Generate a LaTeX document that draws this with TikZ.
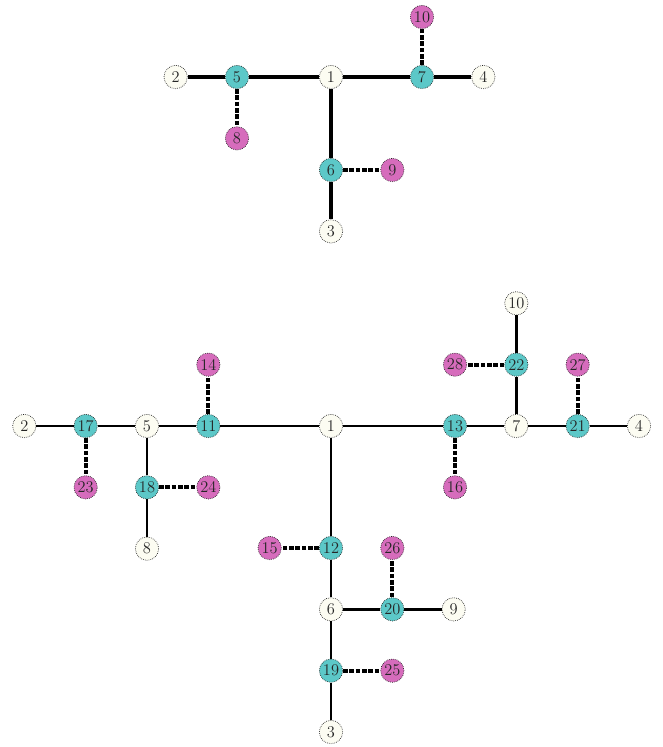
\documentclass[tikz,border=0pt]{standalone}
\usepackage{tikz}
\usetikzlibrary{arrows}

\definecolor{plainfill}{RGB}{252,252,242}
\definecolor{hubfill}{RGB}{92,200,200}
\definecolor{leaffill}{RGB}{214,108,188}

\begin{document}
\begin{tikzpicture}[node distance=1.84cm,
  main node/.style={circle,draw=black!85,densely dotted,line width=0.6pt,fill=plainfill,inner sep=0pt,minimum size=0.7cm,font=\fontsize{14}{14}\selectfont,text=black!85},
  hub node/.style={main node,fill=hubfill},
  leaf node/.style={main node,fill=leaffill},
  wire/.style={solid,line width=2.6pt},
  mid wire/.style={solid,line width=2.1pt},
  thin wire/.style={solid,line width=1.4pt},
  link/.style={line width=3.2pt,dash pattern=on 4pt off 1.4pt}]

  \useasboundingbox (0,0) rectangle (19.86,-22.41);

  % upper tree
  \node[main node] (u1) at (9.93,-2.31) {1};
  \node[hub node] (u5) [left of=u1,node distance=2.82cm] {5};
  \node[main node] (u2) [left of=u5] {2};
  \node[leaf node] (u8) [below of=u5] {8};
  \node[hub node] (u7) [right of=u1,node distance=2.73cm] {7};
  \node[main node] (u4) [right of=u7] {4};
  \node[leaf node] (u10) [above of=u7,node distance=1.8cm] {10};
  \node[hub node] (u6) [below of=u1,node distance=2.79cm] {6};
  \node[leaf node] (u9) [right of=u6] {9};
  \node[main node] (u3) [below of=u6] {3};

  \path[wire]
    (u2) edge (u5)
    (u5) edge (u1)
    (u1) edge (u7)
         edge (u6)
    (u7) edge (u4)
    (u6) edge (u3);
  \path[link]
    (u5) edge (u8)
    (u7) edge (u10)
    (u6) edge (u9);

  % lower tree
  \node[main node] (l1) at (9.93,-12.78) {1};
  \node[hub node] (l11) [left of=l1,node distance=3.68cm] {11};
  \node[main node] (l5) [left of=l11] {5};
  \node[hub node] (l17) [left of=l5] {17};
  \node[main node] (l2) [left of=l17] {2};
  \node[leaf node] (l14) [above of=l11] {14};
  \node[leaf node] (l23) [below of=l17] {23};
  \node[hub node] (l18) [below of=l5] {18};
  \node[leaf node] (l24) [right of=l18] {24};
  \node[main node] (l8) [below of=l18] {8};

  \node[hub node] (l13) [right of=l1,node distance=3.72cm] {13};
  \node[leaf node] (l16) [below of=l13] {16};
  \node[main node] (l7) [right of=l13] {7};
  \node[hub node] (l22) [above of=l7] {22};
  \node[main node] (l10) [above of=l22] {10};
  \node[leaf node] (l28) [left of=l22] {28};
  \node[hub node] (l21) [right of=l7] {21};
  \node[leaf node] (l27) [above of=l21] {27};
  \node[main node] (l4) [right of=l21] {4};

  \node[hub node] (l12) [below of=l1,node distance=3.66cm] {12};
  \node[leaf node] (l15) [left of=l12] {15};
  \node[main node] (l6) [below of=l12] {6};
  \node[hub node] (l20) [right of=l6] {20};
  \node[main node] (l9) [right of=l20] {9};
  \node[leaf node] (l26) [above of=l20] {26};
  \node[hub node] (l19) [below of=l6] {19};
  \node[leaf node] (l25) [right of=l19] {25};
  \node[main node] (l3) [below of=l19] {3};

  \path[mid wire]
    (l2) edge (l17)
    (l17) edge (l5)
    (l5) edge (l11)
         edge (l18)
    (l11) edge (l1)
    (l18) edge (l8)
    (l13) edge (l7)
    (l7) edge (l22)
         edge (l21)
    (l22) edge (l10)
    (l21) edge (l4)
    (l6) edge (l20)
         edge (l19)
    (l20) edge (l9)
    (l19) edge (l3);
  \path[thin wire]
    (l1) edge (l13)
         edge (l12)
    (l12) edge (l6);
  \path[link]
    (l11) edge (l14)
    (l17) edge (l23)
    (l18) edge (l24)
    (l13) edge (l16)
    (l22) edge (l28)
    (l21) edge (l27)
    (l12) edge (l15)
    (l20) edge (l26)
    (l19) edge (l25);
\end{tikzpicture}
\end{document}
